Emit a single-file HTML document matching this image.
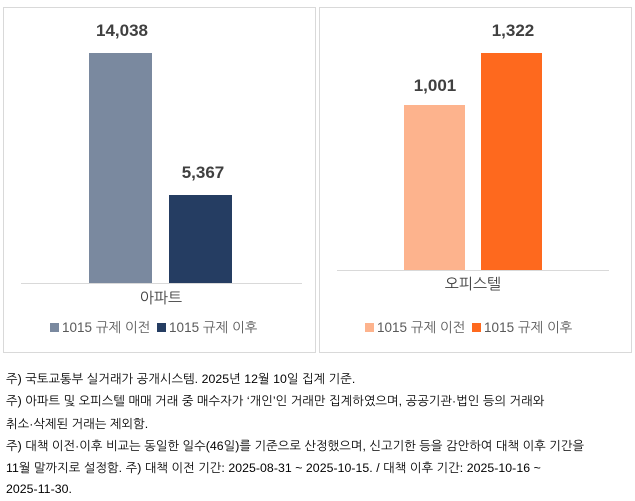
<!DOCTYPE html>
<html><head><meta charset="utf-8"><style>
body{margin:0;width:635px;height:501px;background:#fff;font-family:"Liberation Sans","NanumGothic","Noto Sans CJK KR",sans-serif;position:relative;overflow:hidden}
.a{position:absolute}
.panel{position:absolute;border:1px solid #d9d9d9;top:7px;height:344px}
.bar{position:absolute}
.val{position:absolute;font-weight:bold;font-size:17px;color:#404040;text-align:center;width:100px}
.cat{position:absolute;font-size:15px;color:#404040;text-align:center;width:100px}
.leg{position:absolute;font-size:13.5px;color:#595959;white-space:nowrap;top:319px}
.sq{display:inline-block;width:9px;height:9px;margin-right:3px;vertical-align:0px}
.note{position:absolute;left:6px;font-size:12.3px;letter-spacing:0.05px;color:#000;white-space:nowrap}
</style></head><body>
<div class="panel" style="left:3px;width:311px"></div>
<div class="panel" style="left:319px;width:311px"></div>
<div class="a" style="left:21px;top:283px;width:281px;height:1px;background:#d9d9d9"></div>
<div class="bar" style="left:89px;top:53px;width:63px;height:230px;background:#7a899f"></div>
<div class="bar" style="left:169px;top:195px;width:63px;height:88px;background:#253d62"></div>
<div class="val" style="left:72px;top:21px">14,038</div>
<div class="val" style="left:153px;top:163px">5,367</div>
<div class="cat" style="left:111px;top:289px">아파트</div>
<div class="leg" style="left:50px"><span class="sq" style="background:#7a899f"></span>1015 규제 이전 <span class="sq" style="background:#253d62;margin-left:3px"></span>1015 규제 이후</div>
<div class="a" style="left:337px;top:270px;width:272px;height:1px;background:#d9d9d9"></div>
<div class="bar" style="left:404px;top:105px;width:61px;height:165px;background:#fdb38d"></div>
<div class="bar" style="left:481px;top:53px;width:61px;height:217px;background:#fe691e"></div>
<div class="val" style="left:385px;top:76px">1,001</div>
<div class="val" style="left:463px;top:21px">1,322</div>
<div class="cat" style="left:423px;top:275px">오피스텔</div>
<div class="leg" style="left:365px"><span class="sq" style="background:#fdb38d"></span>1015 규제 이전 <span class="sq" style="background:#fe691e;margin-left:3px"></span>1015 규제 이후</div>
<div class="note" style="top:371px">주) 국토교통부 실거래가 공개시스템. 2025년 12월 10일 집계 기준.</div>
<div class="note" style="top:393px">주) 아파트 및 오피스텔 매매 거래 중 매수자가 ‘개인’인 거래만 집계하였으며, 공공기관·법인 등의 거래와</div>
<div class="note" style="top:416px">취소·삭제된 거래는 제외함.</div>
<div class="note" style="top:438px">주) 대책 이전·이후 비교는 동일한 일수(46일)를 기준으로 산정했으며, 신고기한 등을 감안하여 대책 이후 기간을</div>
<div class="note" style="top:460px">11월 말까지로 설정함. 주) 대책 이전 기간: 2025-08-31 ~ 2025-10-15. / 대책 이후 기간: 2025-10-16 ~</div>
<div class="note" style="top:482px">2025-11-30.</div>
</body></html>
